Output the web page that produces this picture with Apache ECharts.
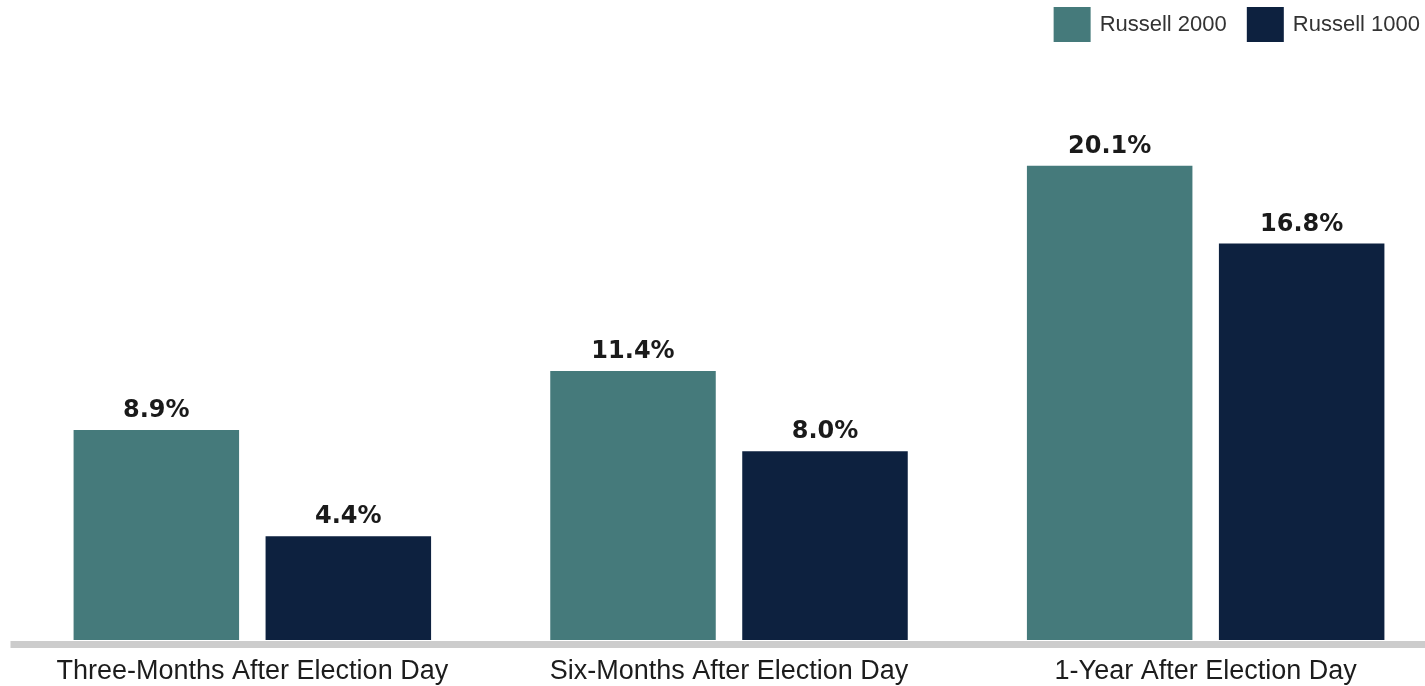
<!DOCTYPE html>
<html>
<head>
<meta charset="utf-8">
<script src="https://cdn.jsdelivr.net/npm/echarts@6/dist/echarts.min.js"></script>
<style>
html,body{margin:0;padding:0;background:#fff;overflow:hidden;width:1425px;height:686px;}
#c{width:1444px;height:686px;}
</style>
</head>
<body>
<div id="c"></div>
<script>
const categories = ['Three-Months After Election Day', 'Six-Months After Election Day', '1-Year After Election Day'];
const russell2000 = [8.9, 11.4, 20.1];
const russell1000 = [4.4, 8.0, 16.8];
const seriesNames = ['Russell 2000', 'Russell 1000'];

const chart = echarts.init(document.getElementById('c'), null, {renderer: 'canvas'});
const valueLabel = {
  show: true,
  position: 'top',
  distance: 7,
  formatter: p => p.value.toFixed(1) + '%',
  fontFamily: 'DejaVu Sans',
  fontWeight: 'bold',
  fontSize: 24,
  color: '#1a1a1a'
};
chart.setOption({
  animation: false,
  legend: {
    top: 7,
    right: 24,
    padding: 0,
    itemWidth: 37,
    itemHeight: 35,
    itemGap: 20,
    icon: 'rect',
    textStyle: {fontFamily: 'Liberation Sans', fontSize: 22, color: '#333', padding: [0, 0, 0, 4]},
    data: seriesNames
  },
  grid: {left: 14, right: 0, top: 50, bottom: 46},
  xAxis: {
    type: 'category',
    data: categories,
    offset: 4,
    axisLine: {onZero: false, lineStyle: {color: '#cccccc', width: 7, cap: 'square'}},
    axisTick: {show: false},
    axisLabel: {interval: 0, fontFamily: 'Liberation Sans', fontSize: 27, color: '#1c1c1c', margin: 14}
  },
  yAxis: {type: 'value', min: 0, max: 25, show: false, splitLine: {show: false}},
  series: [
    {name: seriesNames[0], type: 'bar', data: russell2000, barGap: '16%', barCategoryGap: '25%',
     itemStyle: {color: '#457a7b'}, label: valueLabel},
    {name: seriesNames[1], type: 'bar', data: russell1000,
     itemStyle: {color: '#0d213f'}, label: valueLabel}
  ]
});
</script>
</body>
</html>
